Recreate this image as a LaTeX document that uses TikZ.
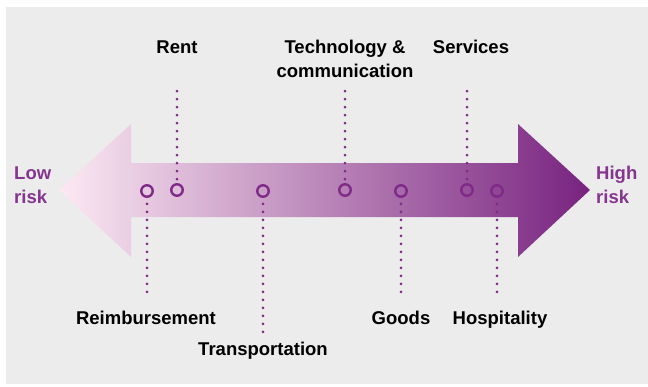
\documentclass[tikz,border=0pt]{standalone}
\usepackage{fontspec}
\setmainfont{Liberation Sans}
\begin{document}
\begin{tikzpicture}[x=1pt,y=-1pt,
  lbl/.style={font=\fontsize{18.5}{24}\selectfont\bfseries, text=black, align=center, inner sep=0pt, anchor=base},
  risk/.style={font=\fontsize{18.5}{24}\selectfont\bfseries, text=riskc, align=left, inner sep=0pt, anchor=base west},
  pt/.style={circle, draw=dotc, line width=2.4pt, minimum size=11.5pt, inner sep=0pt},
  dotline/.style={draw=dotc, line width=3pt, line cap=round, dash pattern=on 0pt off 8pt}]
\definecolor{bgc}{HTML}{ECECEC}
\definecolor{dotc}{HTML}{7F2A88}
\definecolor{riskc}{HTML}{85358F}
\definecolor{lowc}{HTML}{FCE9F3}
\definecolor{highc}{HTML}{78237F}
\useasboundingbox (0,0) rectangle (648,386);
\fill[bgc] (6,7) rectangle (648,384);
% arrow
\shade[left color=lowc, right color=highc]
  (59,190) -- (131,124) -- (131,163) -- (518,163) -- (518,124) -- (590,190)
  -- (518,257) -- (518,217) -- (131,217) -- (131,257) -- cycle;
% points
\node[pt] (reim) at (147,191) {};
\node[pt] (rent) at (177,190) {};
\node[pt] (trans) at (263,191) {};
\node[pt] (tech) at (345,190) {};
\node[pt] (goods) at (401,191) {};
\node[pt] (serv) at (467,190) {};
\node[pt] (hosp) at (497,191) {};
% line ends
\coordinate (rentE) at (177,88);
\coordinate (techE) at (345,88);
\coordinate (servE) at (467,88);
\coordinate (reimE) at (147,295);
\coordinate (transE) at (263,333);
\coordinate (goodsE) at (401,295);
\coordinate (hospE) at (497,295);
\draw[dotline] (rent.north) ++(0,-4) -- (rentE);
\draw[dotline] (tech.north) ++(0,-4) -- (techE);
\draw[dotline] (serv.north) ++(0,-4) -- (servE);
\draw[dotline] (reim.south) ++(0,6) -- (reimE);
\draw[dotline] (trans.south) ++(0,6) -- (transE);
\draw[dotline] (goods.south) ++(0,6) -- (goodsE);
\draw[dotline] (hosp.south) ++(0,6) -- (hospE);
% labels
\node[lbl] (rentL) at (177,53) {Rent};
\node[lbl] (techL) at (345,77) {Technology \&\\communication};
\node[lbl] (servL) at (471,53) {Services};
\node[lbl] (reimL) at (146,324) {Reimbursement};
\node[lbl] (transL) at (263,355) {Transportation};
\node[lbl] (goodsL) at (401,324) {Goods};
\node[lbl] (hospL) at (500,324) {Hospitality};
\node[risk] (low) at (14,203) {Low\\risk};
\node[risk] (high) at (596,203) {High\\risk};
\end{tikzpicture}
\end{document}
